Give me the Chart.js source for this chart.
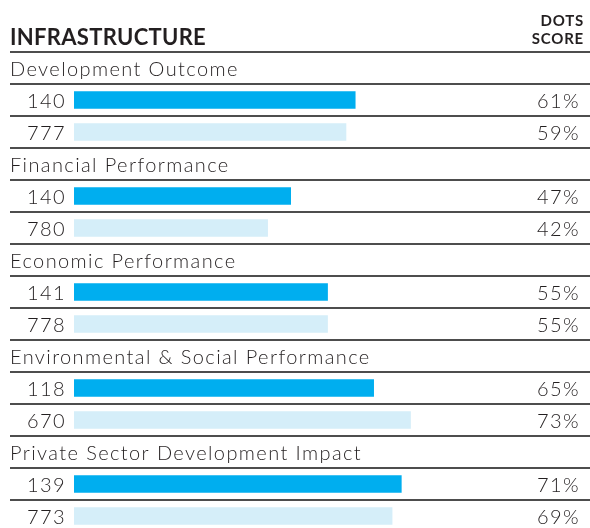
<!DOCTYPE html>
<html>
<head>
<meta charset="utf-8">
<script src="https://cdn.jsdelivr.net/npm/chart.js@4"></script>
<style>
    html, body { margin: 0; padding: 0; background: #fff; overflow: hidden; }
    #wrap { width: 590px; height: 540px; }
</style>
</head>
<body>
<div id="wrap"><canvas id="dots-chart" width="590" height="540"></canvas></div>
<script>
// data
const groups = ['Development Outcome', 'Financial Performance', 'Economic Performance',
    'Environmental & Social Performance', 'Private Sector Development Impact'];
const recentCounts = [140, 140, 141, 118, 139];
const recentScores = [61, 47, 55, 65, 71];
const priorCounts = [777, 780, 778, 670, 773];
const priorScores = [59, 42, 55, 73, 69];

const DARK = '#00aeef';
const LIGHT = '#d5eef9';
const TEXT = '#231f20';
const FONT = 'Lato, "Open Sans", sans-serif';

// rows: group header, recent row, prior row
const rowLabels = [];
const rowValues = [];
const rowColors = [];
const rowKinds = [];
const rowCounts = [];
groups.forEach((g, i) => {
    rowLabels.push(g); rowValues.push(null); rowColors.push(DARK); rowKinds.push('head'); rowCounts.push(null);
    rowLabels.push(g + ' recent'); rowValues.push(recentScores[i]); rowColors.push(DARK); rowKinds.push('bar'); rowCounts.push(recentCounts[i]);
    rowLabels.push(g + ' prior'); rowValues.push(priorScores[i]); rowColors.push(LIGHT); rowKinds.push('bar'); rowCounts.push(priorCounts[i]);
});

const tablePlugin = {
    id: 'tablePlugin',
    afterDatasetsDraw(chart) {
        const ctx = chart.ctx;
        const y = chart.scales.y;
        const step = y.getPixelForValue(1) - y.getPixelForValue(0);
        ctx.save();

        // header
        ctx.fillStyle = TEXT;
        ctx.textBaseline = 'alphabetic';
        ctx.textAlign = 'left';
        ctx.letterSpacing = '0.3px';
        ctx.font = '700 22px ' + FONT;
        ctx.fillText('INFRASTRUCTURE', 10, 45);
        ctx.textAlign = 'right';
        ctx.letterSpacing = '0.8px';
        ctx.font = '700 15px ' + FONT;
        ctx.fillText('DOTS', 584, 26);
        ctx.fillText('SCORE', 584, 44);

        // row lines
        ctx.strokeStyle = '#4d4d4d';
        ctx.lineWidth = 2;
        for (let i = 0; i <= rowLabels.length; i++) {
            const ly = Math.round(y.getPixelForValue(i) - step / 2);
            ctx.beginPath();
            ctx.moveTo(10, ly);
            ctx.lineTo(590, ly);
            ctx.stroke();
        }

        // row texts
        ctx.font = '300 20px ' + FONT;
        ctx.letterSpacing = '1.4px';
        rowLabels.forEach((label, i) => {
            const cy = y.getPixelForValue(i) + 8;
            if (rowKinds[i] === 'head') {
                ctx.textAlign = 'left';
                ctx.fillText(label, 10, cy);
            } else {
                ctx.textAlign = 'right';
                ctx.fillText(String(rowCounts[i]), 66, cy);
                ctx.fillText(rowValues[i] + '%', 580, cy);
            }
        });
        ctx.restore();
    }
};

new Chart(document.getElementById('dots-chart'), {
    type: 'bar',
    data: {
        labels: rowLabels,
        datasets: [{
            data: rowValues,
            backgroundColor: rowColors,
            borderWidth: 0,
            barThickness: 17
        }]
    },
    options: {
        indexAxis: 'y',
        responsive: false,
        animation: false,
        layout: { padding: { top: 52, bottom: 8, left: 74, right: 55 } },
        plugins: {
            legend: { display: false },
            tooltip: { enabled: false }
        },
        scales: {
            x: { min: 0, max: 100, display: false },
            y: { display: false }
        }
    },
    plugins: [tablePlugin]
});
</script>
</body>
</html>
